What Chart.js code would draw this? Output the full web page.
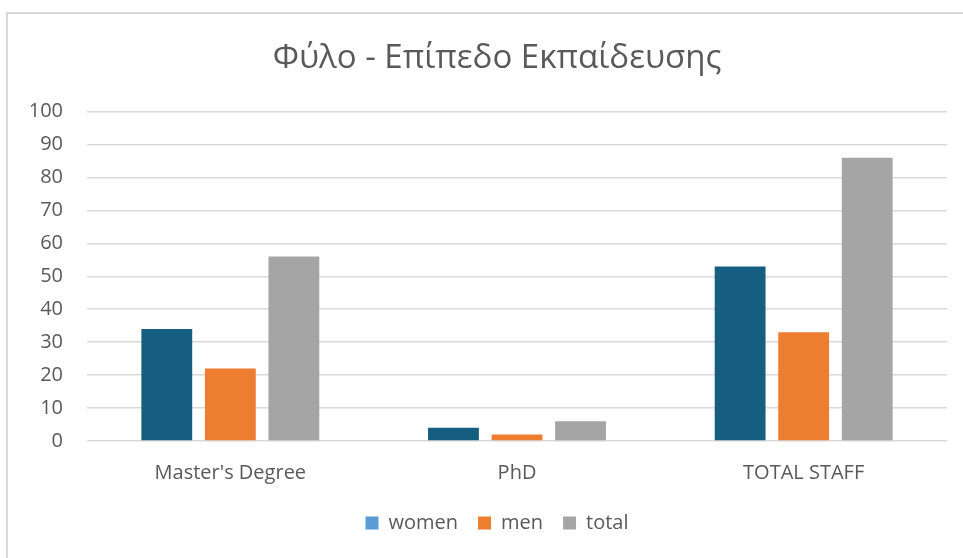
<!DOCTYPE html>
<html>
<head>
<meta charset="utf-8">
<script src="https://cdn.jsdelivr.net/npm/chart.js@4.4.1/dist/chart.umd.min.js"></script>
<style>
  html, body { margin: 0; padding: 0; background: #fff; overflow: hidden; width: 963px; height: 558px; }
  #frame { position: absolute; left: 6px; top: 12px; width: 1000px; height: 600px; border: 2px solid #d9d9d9; box-sizing: border-box; }
  #chart { position: absolute; left: 0; top: 0; }
</style>
</head>
<body>
<div id="frame"></div>
<canvas id="chart" width="990" height="558"></canvas>
<script>
const categories = ["Master's Degree", 'PhD', 'TOTAL STAFF'];
const women = [34, 4, 53];
const men = [22, 2, 33];
const total = [56, 6, 86];
const yTicks = [0, 10, 20, 30, 40, 50, 60, 70, 80, 90, 100];

const FONT = "'Open Sans', sans-serif";
const textColor = '#595959';

const ctx = document.getElementById('chart');
new Chart(ctx, {
  type: 'bar',
  data: {
    labels: categories,
    datasets: [
      { label: 'women', data: women, backgroundColor: '#165e80' },
      { label: 'men', data: men, backgroundColor: '#ed7d31' },
      { label: 'total', data: total, backgroundColor: '#a5a5a5' }
    ]
  },
  options: {
    responsive: false,
    animation: false,
    categoryPercentage: 0.665,
    barPercentage: 0.8,
    // left padding keeps title and legend centred like the original, wider chart
    layout: { padding: { top: 12, bottom: 15, left: 47, right: 43 } },
    plugins: {
      title: {
        display: true,
        text: 'Φύλο - Επίπεδο Εκπαίδευσης',
        color: textColor,
        font: { family: FONT, size: 33, weight: 'normal' },
        padding: { top: 27, bottom: 33 }
      },
      legend: {
        position: 'bottom',
        labels: {
          color: textColor,
          font: { family: FONT, size: 20 },
          boxWidth: 13,
          boxHeight: 13,
          padding: 20,
          generateLabels: function(chart) {
            const items = Chart.defaults.plugins.legend.labels.generateLabels(chart);
            // legend swatch for women is lighter than the bars in the original
            items[0].fillStyle = '#5b9bd5';
            items.forEach(function(it) { it.lineWidth = 0; it.strokeStyle = 'transparent'; });
            return items;
          }
        }
      },
      tooltip: { enabled: false }
    },
    scales: {
      x: {
        grid: { display: false, drawTicks: false },
        border: { display: false },
        ticks: { color: textColor, font: { family: FONT, size: 20 }, padding: 20 },
        afterFit: function(scale) { scale.height = 52; }
      },
      y: {
        min: 0,
        max: 100,
        afterBuildTicks: function(scale) { scale.ticks = yTicks.map(v => ({ value: v })); },
        grid: { color: '#d9d9d9', lineWidth: 1.5, drawTicks: false },
        border: { display: false },
        ticks: { color: textColor, font: { family: FONT, size: 20 }, padding: 24 },
        afterFit: function(scale) {
          scale.width = 40;
          // labels stick out of the narrow axis box, so don't clip them
          scale._computeLabelArea = function() { return undefined; };
        }
      }
    }
  }
});
</script>
</body>
</html>
